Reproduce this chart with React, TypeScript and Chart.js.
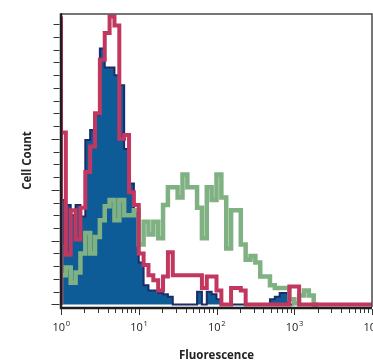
import { useEffect, useRef } from "react";
import { Chart, registerables } from "chart.js";

Chart.register(...registerables);

// Histogram bins: 16 log-spaced bins per decade, from 10^0 to 10^4
const BINS_PER_DECADE = 16;
const X_MIN = 1;
const X_MAX = 10000;

// Cell counts per bin
const redCounts = [
  226, 135, 39, 74, 51, 76, 104, 124, 150, 192,
  213, 226, 219, 130, 133, 88, 78, 40, 31, 23,
  19, 11, 22, 41, 23, 23, 23, 23, 23, 23,
  13, 22, 22, 11, 0, 0, 13, 13, 11, 0,
  0, 0, 0, 0, 0, 0, 0, 0, 14, 14,
  0, 0, 0, 0, 0, 0, 0, 0, 0, 0, 0, 0, 0, 0,
];
const blueCounts = [
  82, 82, 78, 70, 78, 69, 129, 137, 149, 201,
  186, 186, 180, 172, 122, 95, 72, 33, 15, 11,
  11, 9, 8, 6, 0, 0, 0, 0, 0, 10,
  0, 10, 8, 4, 0, 0, 0, 0, 0, 0,
  0, 0, 0, 0, 4, 6, 9, 9,
];
const greenCounts = [
  47, 23, 29, 17, 25, 40, 56, 40, 53, 66,
  77, 82, 66, 82, 70, 70, 74, 47, 65, 55,
  65, 52, 78, 92, 92, 84, 102, 92, 92, 76,
  52, 92, 82, 102, 84, 44, 74, 74, 47, 35,
  38, 33, 22, 22, 15, 13, 13, 13, 4, 1,
  7, 11, 7,
];

const xTickExponents = [0, 1, 2, 3, 4];
const xMinorMultipliers = [2, 3, 4, 5, 6, 7, 8, 9];
const yTickValues = [0, 10, 20, 30, 40, 50, 60, 70, 80, 90, 100, 110, 120, 130, 140, 150, 160, 170, 180, 190, 200, 210, 220];
const yMajorTickValues = [0, 50, 90, 130];

const xTitle = "Fluorescence";
const yTitle = "Cell Count";

const RED = "#c2375f";
const GREEN = "#80b182";
const BLUE_FILL = "#0d5b97";
const BLUE_LINE = "#1d2c69";

function binEdge(i: number) {
  return Math.pow(10, i / BINS_PER_DECADE);
}

function stepPoints(counts: number[]) {
  const pts: { x: number; y: number }[] = [{ x: binEdge(0), y: 0 }];
  counts.forEach((c, i) => pts.push({ x: binEdge(i), y: c }));
  pts.push({ x: binEdge(counts.length), y: 0 });
  return pts;
}

export default function App() {
  const ref = useRef<HTMLCanvasElement>(null);

  useEffect(() => {
    const canvas = ref.current!;
    const framePlugin = {
      id: "frame",
      afterDraw(chart: any) {
        const ctx = chart.ctx as CanvasRenderingContext2D;
        const { left, right, top, bottom } = chart.chartArea;
        const xs = chart.scales.x;
        const ys = chart.scales.y;
        ctx.save();
        // top & right border
        ctx.strokeStyle = "#4a4a4a";
        ctx.lineWidth = 1.5;
        ctx.beginPath();
        ctx.moveTo(left, top);
        ctx.lineTo(right, top);
        ctx.lineTo(right, bottom);
        ctx.stroke();
        // left & bottom axes
        ctx.strokeStyle = "#1e1e1e";
        ctx.lineWidth = 2.5;
        ctx.beginPath();
        ctx.moveTo(left, top - 0.75);
        ctx.lineTo(left, bottom + 1);
        ctx.lineTo(right, bottom + 1);
        ctx.stroke();
        // y ticks
        ctx.strokeStyle = "#333";
        ctx.lineWidth = 1;
        yTickValues.forEach((v) => {
          const y = Math.round(ys.getPixelForValue(v)) + 0.5;
          const len = yMajorTickValues.includes(v) ? 8 : 6;
          ctx.beginPath();
          ctx.moveTo(left - 1.5, y);
          ctx.lineTo(left - 1.5 - len, y);
          ctx.stroke();
        });
        // x ticks
        xTickExponents.forEach((e) => {
          const vals = [{ v: Math.pow(10, e), major: true }];
          if (e < 4) xMinorMultipliers.forEach((m) => vals.push({ v: m * Math.pow(10, e), major: false }));
          vals.forEach(({ v, major }) => {
            const x = Math.round(xs.getPixelForValue(v)) + 0.5;
            ctx.beginPath();
            ctx.moveTo(x, bottom + 2);
            ctx.lineTo(x, bottom + 2 + (major ? 6 : 4));
            ctx.stroke();
          });
        });
        // x tick labels with superscript exponents
        ctx.fillStyle = "#222";
        ctx.textBaseline = "alphabetic";
        ctx.textAlign = "left";
        xTickExponents.forEach((e) => {
          const x = xs.getPixelForValue(Math.pow(10, e));
          ctx.font = '11px "Open Sans"';
          const w1 = ctx.measureText("10").width;
          ctx.font = '7.5px "Open Sans"';
          const w2 = ctx.measureText(String(e)).width;
          const start = x - (w1 + w2) / 2;
          ctx.font = '11px "Open Sans"';
          ctx.fillText("10", start, 331);
          ctx.font = '7.5px "Open Sans"';
          ctx.fillText(String(e), start + w1 + 0.5, 326);
        });
        ctx.restore();
      },
    };

    const chart = new Chart(canvas, {
      type: "line",
      data: {
        datasets: [
          {
            label: "red",
            data: stepPoints(redCounts),
            stepped: "after",
            borderColor: RED,
            borderWidth: 4,
            pointRadius: 0,
            fill: false,
          },
          {
            label: "green",
            data: stepPoints(greenCounts),
            stepped: "after",
            borderColor: GREEN,
            borderWidth: 4.5,
            pointRadius: 0,
            fill: false,
          },
          {
            label: "blue",
            data: stepPoints(blueCounts),
            stepped: "after",
            borderColor: BLUE_LINE,
            backgroundColor: BLUE_FILL,
            borderWidth: 2,
            pointRadius: 0,
            fill: "origin",
          },
        ],
      },
      options: {
        responsive: false,
        maintainAspectRatio: false,
        animation: false,
        events: [],
        layout: { padding: { top: 14, right: 28, left: 0, bottom: 0 } },
        plugins: { legend: { display: false }, tooltip: { enabled: false } },
        scales: {
          x: {
            type: "logarithmic",
            min: X_MIN,
            max: X_MAX,
            grid: { display: false },
            border: { display: false },
            ticks: { display: false },
            title: {
              display: true,
              text: xTitle,
              color: "#222",
              font: { family: '"Open Sans"', size: 11.5, weight: "bold" },
              padding: { top: 0, bottom: 0 },
            },
            afterFit: (s: any) => {
              s.height = 56;
            },
          },
          y: {
            type: "linear",
            min: -2,
            max: 228,
            grid: { display: false },
            border: { display: false },
            ticks: { display: false },
            title: {
              display: true,
              text: yTitle,
              color: "#222",
              font: { family: '"Open Sans"', size: 11.5, weight: "bold" },
              padding: { top: 21, bottom: 0 },
            },
            afterFit: (s: any) => {
              s.width = 61;
            },
          },
        },
      } as any,
      plugins: [framePlugin],
    });
    return () => chart.destroy();
  }, []);

  return (
    <div
      style={{
        position: "fixed",
        left: 0,
        top: 0,
        width: 373,
        height: 363,
        overflow: "hidden",
        background: "#fff",
      }}
    >
      <canvas ref={ref} width={400} height={363} style={{ display: "block" }} />
    </div>
  );
}
